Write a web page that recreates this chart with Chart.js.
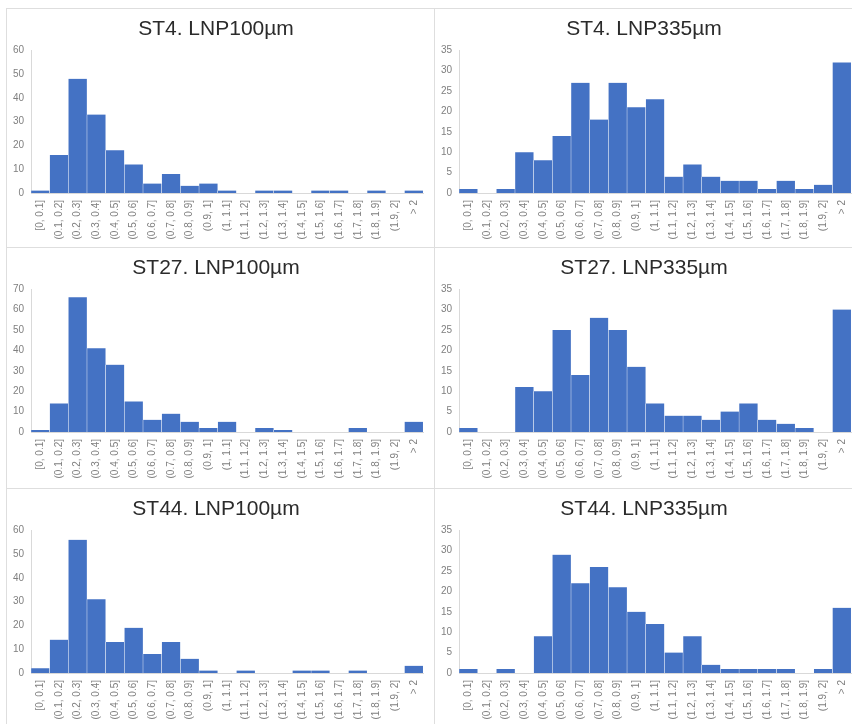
<!DOCTYPE html>
<html>
<head>
<meta charset="utf-8">
<title>LNP size distributions</title>
<script src="https://cdn.jsdelivr.net/npm/chart.js@4/dist/chart.umd.min.js"></script>
<style>
  html, body { margin: 0; padding: 0; background: #ffffff; }
  #sheet { position: relative; width: 852px; height: 724px; overflow: hidden; background: #ffffff; }
  .cell { position: absolute; width: 426px; height: 238px; }
  .hline { position: absolute; left: 6px; right: 0; height: 1px; background: #dedede; }
  .vline { position: absolute; top: 8px; bottom: 0; width: 1px; background: #dedede; }
</style>
</head>
<body>
<div id="sheet">
  <div class="hline" style="top:8px"></div>
  <div class="hline" style="top:247px"></div>
  <div class="hline" style="top:488px"></div>
  <div class="vline" style="left:6px"></div>
  <div class="vline" style="left:434px"></div>

  <div class="cell" style="left:7px;top:9px"><canvas id="st4_100"></canvas></div>
  <div class="cell" style="left:435px;top:9px"><canvas id="st4_335"></canvas></div>
  <div class="cell" style="left:7px;top:248px"><canvas id="st27_100"></canvas></div>
  <div class="cell" style="left:435px;top:248px"><canvas id="st27_335"></canvas></div>
  <div class="cell" style="left:7px;top:489px"><canvas id="st44_100"></canvas></div>
  <div class="cell" style="left:435px;top:489px"><canvas id="st44_335"></canvas></div>
</div>

<script>
// Size bins (mm) shared by every histogram
const binLabels = [
  '[0, 0.1]', '(0.1, 0.2]', '(0.2, 0.3]', '(0.3, 0.4]', '(0.4, 0.5]',
  '(0.5, 0.6]', '(0.6, 0.7]', '(0.7, 0.8]', '(0.8, 0.9]', '(0.9, 1]',
  '(1, 1.1]', '(1.1, 1.2]', '(1.2, 1.3]', '(1.3, 1.4]', '(1.4, 1.5]',
  '(1.5, 1.6]', '(1.6, 1.7]', '(1.7, 1.8]', '(1.8, 1.9]', '(1.9, 2]', '> 2'
];

// Counts per bin for each station and net mesh
const st4Lnp100  = [1, 16, 48, 33, 18, 12, 4, 8, 3, 4, 1, 0, 1, 1, 0, 1, 1, 0, 1, 0, 1];
const st4Lnp335  = [1, 0, 1, 10, 8, 14, 27, 18, 27, 21, 23, 4, 7, 4, 3, 3, 1, 3, 1, 2, 32];
const st27Lnp100 = [1, 14, 66, 41, 33, 15, 6, 9, 5, 2, 5, 0, 2, 1, 0, 0, 0, 2, 0, 0, 5];
const st27Lnp335 = [1, 0, 0, 11, 10, 25, 14, 28, 25, 16, 7, 4, 4, 3, 5, 7, 3, 2, 1, 0, 30];
const st44Lnp100 = [2, 14, 56, 31, 13, 19, 8, 13, 6, 1, 0, 1, 0, 0, 1, 1, 0, 1, 0, 0, 3];
const st44Lnp335 = [1, 0, 1, 0, 9, 29, 22, 26, 21, 15, 12, 5, 9, 2, 1, 1, 1, 1, 0, 1, 16];

// Panel titles and y-axis ranges
const titles = ['ST4. LNP100µm', 'ST4. LNP335µm', 'ST27. LNP100µm', 'ST27. LNP335µm', 'ST44. LNP100µm', 'ST44. LNP335µm'];
const yMaxima = [60, 35, 70, 35, 60, 35];
const ySteps  = [10, 5, 10, 5, 10, 5];

const BAR_BLUE = '#4472C4';
const AXIS_GREY = '#d9d9d9';
const TICK_GREY = '#7f7f7f';
const FONT = "'Liberation Sans', Arial, sans-serif";

function histogram(canvasId, title, counts, yMax, yStep) {
  return new Chart(document.getElementById(canvasId), {
    type: 'bar',
    data: {
      labels: binLabels,
      datasets: [{
        data: counts,
        backgroundColor: BAR_BLUE,
        borderColor: '#ffffff',
        borderWidth: { left: 0.5, right: 0.5, top: 0, bottom: 0 },
        borderSkipped: false,
        categoryPercentage: 1.0,
        barPercentage: 1.0
      }]
    },
    options: {
      responsive: true,
      maintainAspectRatio: false,
      animation: false,
      layout: { padding: { left: 0, right: 8, top: 0, bottom: 0 } },
      plugins: {
        legend: { display: false },
        tooltip: { enabled: false },
        title: {
          display: true,
          text: title,
          color: '#2b2b2b',
          font: { family: FONT, size: 21, weight: 'normal', lineHeight: 1.2 },
          padding: { top: 8, bottom: 8 }
        }
      },
      scales: {
        x: {
          grid: { display: false, drawTicks: false },
          border: { display: true, color: AXIS_GREY, width: 1 },
          ticks: {
            autoSkip: false,
            minRotation: 90,
            maxRotation: 90,
            padding: 7,
            color: TICK_GREY,
            font: { family: FONT, size: 10 }
          },
          afterFit: (scale) => { scale.height = 54; }
        },
        y: {
          min: 0,
          max: yMax,
          grid: { display: false, drawTicks: false },
          border: { display: true, color: AXIS_GREY, width: 1 },
          ticks: {
            stepSize: yStep,
            padding: 7,
            color: TICK_GREY,
            font: { family: FONT, size: 10 }
          },
          afterFit: (scale) => { scale.width = 24; }
        }
      }
    }
  });
}

const panels = [
  ['st4_100', st4Lnp100], ['st4_335', st4Lnp335],
  ['st27_100', st27Lnp100], ['st27_335', st27Lnp335],
  ['st44_100', st44Lnp100], ['st44_335', st44Lnp335]
];
panels.forEach(([id, counts], i) => histogram(id, titles[i], counts, yMaxima[i], ySteps[i]));
</script>
</body>
</html>
